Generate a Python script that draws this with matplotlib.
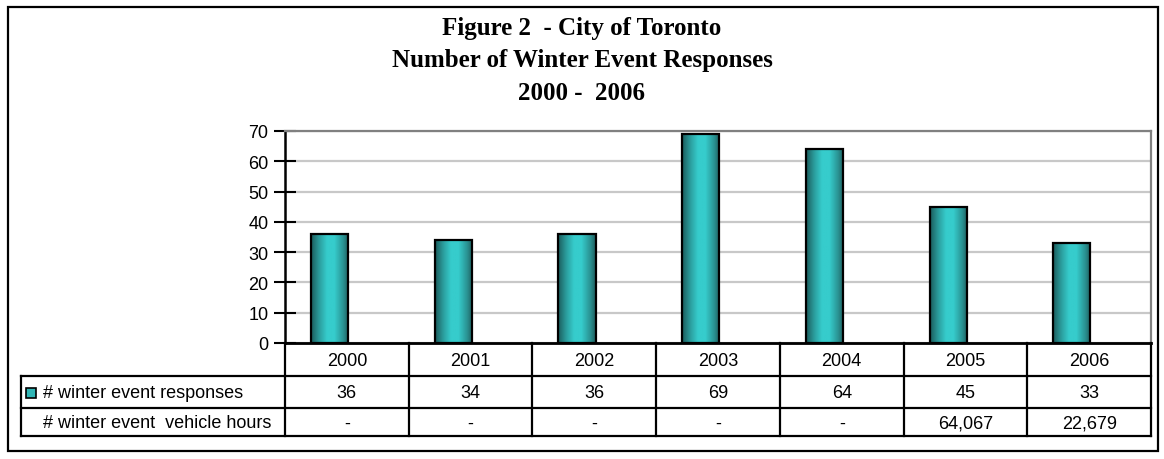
import matplotlib
matplotlib.use("Agg")
import matplotlib.pyplot as plt
import numpy as np
from matplotlib.colors import LinearSegmentedColormap
from matplotlib.patches import Rectangle

# data
years = ["2000", "2001", "2002", "2003", "2004", "2005", "2006"]
responses = [36, 34, 36, 69, 64, 45, 33]
vehicle_hours = ["-", "-", "-", "-", "-", "64,067", "22,679"]
row_labels = ["# winter event responses", "# winter event  vehicle hours"]
title_lines = ["Figure 2  - City of Toronto", "Number of Winter Event Responses", "2000 -  2006"]

W, H = 1164, 460
sans = "Liberation Sans"
serif = "Liberation Serif"

fig = plt.figure(figsize=(W / 100, H / 100), dpi=100)
fig.patch.set_facecolor("white")

# outer frame
fig.patches.append(Rectangle((8 / W, 8 / H), 1150 / W, 444 / H, transform=fig.transFigure,
                             fill=False, edgecolor="black", linewidth=1.6))

# title
for k, line in enumerate(title_lines):
    fig.text(582 / W, 1 - (29 + 32 * k) / H, line, ha="center", va="center",
             fontsize=18, fontweight="bold", family=serif)

# plot area
px_l, px_r, px_t, px_b = 285, 1151, 132, 344
ax = fig.add_axes([px_l / W, 1 - px_b / H, (px_r - px_l) / W, (px_b - px_t) / H])
n = len(years)
x = np.arange(n)

cmap = LinearSegmentedColormap.from_list(
    "teal", [(0, "#1b5c5c"), (0.2, "#2a9a9a"), (0.42, "#36cccc"), (0.62, "#36cccc"),
             (0.85, "#2a9494"), (1, "#1f5f5f")])
grad = np.linspace(0, 1, 64).reshape(1, -1)

bars = ax.bar(x - 0.29, responses, width=0.3, align="edge", facecolor="none",
              edgecolor="black", linewidth=1.6, zorder=3)
for b in bars:
    im = ax.imshow(grad, cmap=cmap, aspect="auto", zorder=2,
                   extent=[b.get_x(), b.get_x() + b.get_width(), 0, b.get_height()])
    im.set_clip_path(b)

ax.set_xlim(-0.5, n - 0.5)
ax.set_ylim(0, 70)
ax.set_yticks(range(0, 71, 10))
ax.set_xticks([])
ax.yaxis.grid(True, color="#c8c8c8", linewidth=1.6, zorder=0)
ax.set_axisbelow(True)
ax.tick_params(axis="y", direction="inout", length=16, width=1.5, labelsize=13, pad=4)
for lab in ax.get_yticklabels():
    lab.set_family(sans)
ax.spines["left"].set_linewidth(1.8)
ax.spines["bottom"].set_linewidth(2)
ax.spines["top"].set_color("#808080")
ax.spines["top"].set_linewidth(1.6)
ax.spines["right"].set_color("#808080")
ax.spines["right"].set_linewidth(1.6)

# data table below the axis
tbl_l = 21
unit = (px_r - px_l) / n
x_left = -0.5 - (px_l - tbl_l) / unit
rows_y = [344, 377, 409, 437]
tax = fig.add_axes([tbl_l / W, 1 - rows_y[-1] / H, (px_r - tbl_l) / W, (rows_y[-1] - rows_y[0]) / H])
tax.set_xlim(x_left, n - 0.5)
tax.set_ylim(rows_y[-1], rows_y[0])
tax.axis("off")

lw = 1.6
# horizontal lines
tax.plot([-0.5, n - 0.5], [rows_y[0]] * 2, color="black", lw=lw)
for yy in rows_y[1:]:
    tax.plot([x_left, n - 0.5], [yy] * 2, color="black", lw=lw, clip_on=False)
# vertical lines
for i in range(n + 1):
    tax.plot([i - 0.5] * 2, [rows_y[0], rows_y[-1]], color="black", lw=lw, clip_on=False)
tax.plot([x_left] * 2, [rows_y[1], rows_y[-1]], color="black", lw=lw, clip_on=False)

def mid(r):
    return (rows_y[r] + rows_y[r + 1]) / 2 + 1

fs = 13
for i in range(n):
    tax.text(i, mid(0), years[i], ha="center", va="center", fontsize=fs, family=sans)
    tax.text(i, mid(1), str(responses[i]), ha="center", va="center", fontsize=fs, family=sans)
    tax.text(i, mid(2), vehicle_hours[i], ha="center", va="center", fontsize=fs, family=sans)

text_x = x_left + 22 / unit
tax.add_patch(Rectangle((x_left + 5 / unit, mid(1) - 5), 10 / unit, 10,
                        facecolor="#2fb5b5", edgecolor="black", linewidth=1.2, clip_on=False))
tax.text(text_x, mid(1), row_labels[0], ha="left", va="center", fontsize=fs, family=sans)
tax.text(text_x, mid(2), row_labels[1], ha="left", va="center", fontsize=fs, family=sans)

fig.savefig("out.png", dpi=100, facecolor="white")
